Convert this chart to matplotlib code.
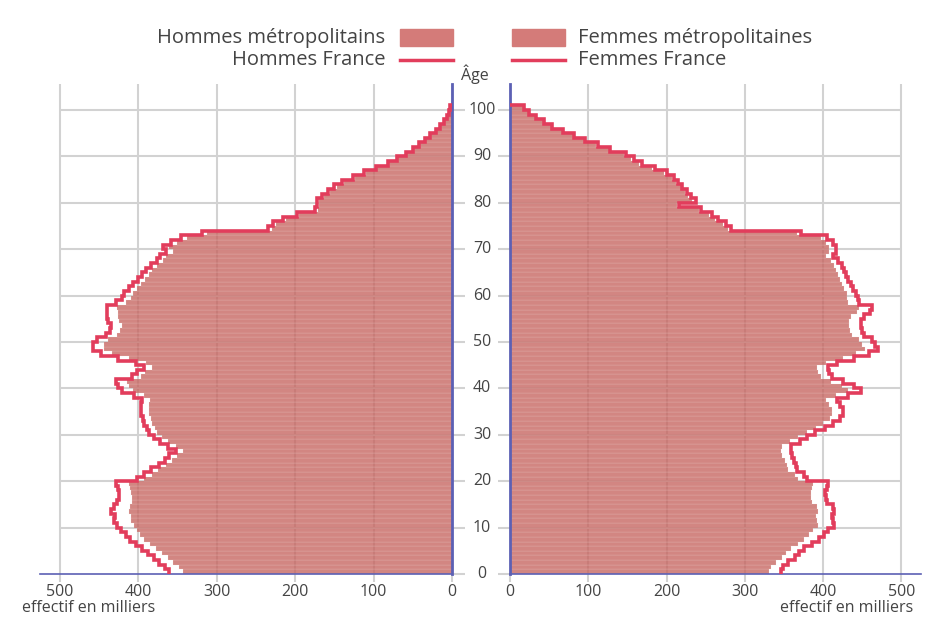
import numpy as np
import matplotlib
matplotlib.use('Agg')
from matplotlib import pyplot as plt
from matplotlib.patches import Rectangle
from matplotlib.lines import Line2D
from matplotlib.transforms import blended_transform_factory

plt.rcParams['font.family'] = ['Open Sans', 'DejaVu Sans']

# effectifs par âge (0 à 100 ans), en milliers
ages = np.arange(101)

hommes_france = [
    360, 366, 373, 380, 387, 395, 403, 410, 416, 422,
    427, 431, 430, 435, 431, 427, 424, 424, 425, 428,
    402, 392, 384, 373, 366, 360, 352, 362, 372, 380,
    386, 389, 392, 394, 396, 396, 396, 395, 405, 420,
    426, 428, 408, 402, 392, 403, 426, 447, 458, 458,
    452, 441, 436, 434, 438, 440, 440, 440, 428, 420,
    418, 412, 406, 400, 395, 390, 384, 376, 372, 364,
    368, 358, 345, 318, 234, 228, 215, 198, 174, 172,
    172, 166, 158, 150, 140, 126, 112, 97, 82, 70,
    58, 50, 42, 35, 28, 21, 15, 10, 6, 4,
    3]

hommes_metro = [
    343, 348, 355, 362, 369, 377, 385, 392, 398, 402,
    405, 409, 409, 411, 410, 408, 408, 409, 410, 411,
    392, 382, 374, 364, 357, 351, 343, 352, 362, 370,
    376, 379, 382, 384, 386, 386, 386, 385, 393, 407,
    412, 414, 396, 391, 382, 390, 412, 433, 443, 444,
    438, 427, 423, 421, 424, 426, 426, 427, 416, 409,
    407, 402, 396, 391, 386, 382, 376, 368, 364, 356,
    360, 351, 338, 312, 230, 224, 211, 195, 171, 169,
    169, 163, 155, 147, 137, 124, 110, 95, 80, 69,
    57, 49, 41, 34, 27, 20, 15, 10, 6, 4,
    3]

femmes_france = [
    346, 349, 355, 364, 369, 376, 386, 395, 401, 406,
    414, 412, 411, 414, 412, 405, 404, 403, 405, 406,
    380, 376, 366, 365, 363, 360, 359, 359, 370, 380,
    390, 402, 412, 422, 425, 425, 422, 418, 432, 448,
    440, 425, 411, 408, 406, 418, 440, 458, 470, 466,
    462, 452, 449, 448, 448, 452, 460, 462, 446, 444,
    442, 438, 435, 432, 429, 427, 424, 419, 412, 416,
    416, 413, 405, 372, 282, 276, 266, 258, 244, 216,
    237, 231, 226, 220, 215, 210, 200, 185, 168, 158,
    148, 128, 112, 96, 82, 68, 54, 43, 33, 24,
    18]

femmes_metro = [
    331, 334, 340, 348, 353, 359, 368, 376, 382, 387,
    394, 392, 391, 394, 392, 386, 385, 384, 386, 387,
    368, 364, 355, 354, 351, 347, 346, 347, 358, 368,
    380, 391, 400, 409, 411, 411, 408, 404, 416, 432,
    424, 410, 397, 394, 392, 404, 425, 442, 453, 450,
    446, 437, 434, 433, 433, 436, 443, 446, 432, 431,
    430, 427, 424, 422, 419, 417, 414, 410, 404, 407,
    407, 404, 397, 366, 278, 272, 262, 254, 241, 213,
    233, 228, 223, 218, 212, 207, 197, 182, 165, 155,
    145, 126, 110, 94, 80, 66, 53, 42, 32, 23,
    17]

x_ticks = [0, 100, 200, 300, 400, 500]
age_ticks = list(range(0, 101, 10))

bar_color = '#c6645f'
legend_bar_color = '#d47b79'
line_color = '#e23d5c'
axis_color = '#5c60b4'
grid_color = '#d2d2d2'
text_color = '#444444'

W, H = 939, 618


def fx(px):
    return px / W


def fy(py):
    return 1 - py / H


fig = plt.figure(figsize=(W / 100, H / 100), dpi=100)
ax_l = fig.add_axes([fx(40), fy(574), fx(452 - 40), (574 - 84) / H])
ax_r = fig.add_axes([fx(510), fy(574), fx(921 - 510), (574 - 84) / H])

for ax, metro, france in [(ax_l, hommes_metro, hommes_france),
                          (ax_r, femmes_metro, femmes_france)]:
    ax.barh(ages, metro, height=1, align='edge', color=bar_color, alpha=0.78,
            edgecolor='#f3dede', linewidth=0.15, zorder=2)
    xs = np.append(np.repeat(france, 2), 0)
    ys = np.append(np.column_stack([ages, ages + 1]).ravel(), 101)
    ax.plot(xs, ys, color=line_color, lw=2.6, zorder=3, solid_joinstyle='miter')

    ax.hlines(age_ticks[1:], 0, 500, color=grid_color, lw=1.5, zorder=1)
    ax.set_xticks(x_ticks)
    ax.grid(axis='x', color=grid_color, lw=1.5, zorder=1)
    ax.set_axisbelow(True)
    ax.set_ylim(0, 105.6)
    ax.set_yticks(age_ticks)
    ax.tick_params(axis='x', direction='out', length=6, width=1.5, color=grid_color,
                   labelcolor=text_color, labelsize=11.5, pad=1)
    ax.tick_params(axis='y', direction='out', length=9, width=1.5, color=grid_color,
                   labelleft=False, labelright=False)
    for s in ax.spines.values():
        s.set_visible(False)
    ax.spines['bottom'].set_visible(True)
    ax.spines['bottom'].set_color(axis_color)
    ax.spines['bottom'].set_linewidth(1.2)

ax_l.set_xlim(525, 0)
ax_l.yaxis.tick_right()
ax_l.spines['right'].set_visible(True)
ax_l.spines['right'].set_color(axis_color)
ax_l.spines['right'].set_linewidth(2)

ax_r.set_xlim(0, 525)
ax_r.spines['left'].set_visible(True)
ax_r.spines['left'].set_color(axis_color)
ax_r.spines['left'].set_linewidth(2)

# étiquettes d'âge au centre
trans = blended_transform_factory(fig.transFigure, ax_r.transData)
for a in age_ticks:
    fig.text(fx(482), a, str(a), transform=trans, ha='center', va='center',
             fontsize=11.5, color=text_color)
fig.text(fx(475), fy(74), 'Âge', ha='center', va='center', fontsize=11.5, color=text_color)

fig.text(fx(22), fy(608), 'effectif en milliers', ha='left', va='center',
         fontsize=11.5, color=text_color)
fig.text(fx(780), fy(608), 'effectif en milliers', ha='left', va='center',
         fontsize=11.5, color=text_color)

# légende
fig.text(fx(385), fy(38), 'Hommes métropolitains', ha='right', va='center',
         fontsize=14.5, color=text_color)
fig.text(fx(578), fy(38), 'Femmes métropolitaines', ha='left', va='center',
         fontsize=14.5, color=text_color)
fig.text(fx(385), fy(60), 'Hommes France', ha='right', va='center',
         fontsize=14.5, color=text_color)
fig.text(fx(578), fy(60), 'Femmes France', ha='left', va='center',
         fontsize=14.5, color=text_color)
for x0 in (400, 512):
    fig.patches.append(Rectangle((fx(x0), fy(46)), fx(53), 17 / H,
                                 transform=fig.transFigure, color=legend_bar_color))
    fig.lines.append(Line2D([fx(x0), fx(x0 + 53)], [fy(60), fy(60)],
                            transform=fig.transFigure, color=line_color, lw=2.5))

fig.savefig('out.png', dpi=100)
